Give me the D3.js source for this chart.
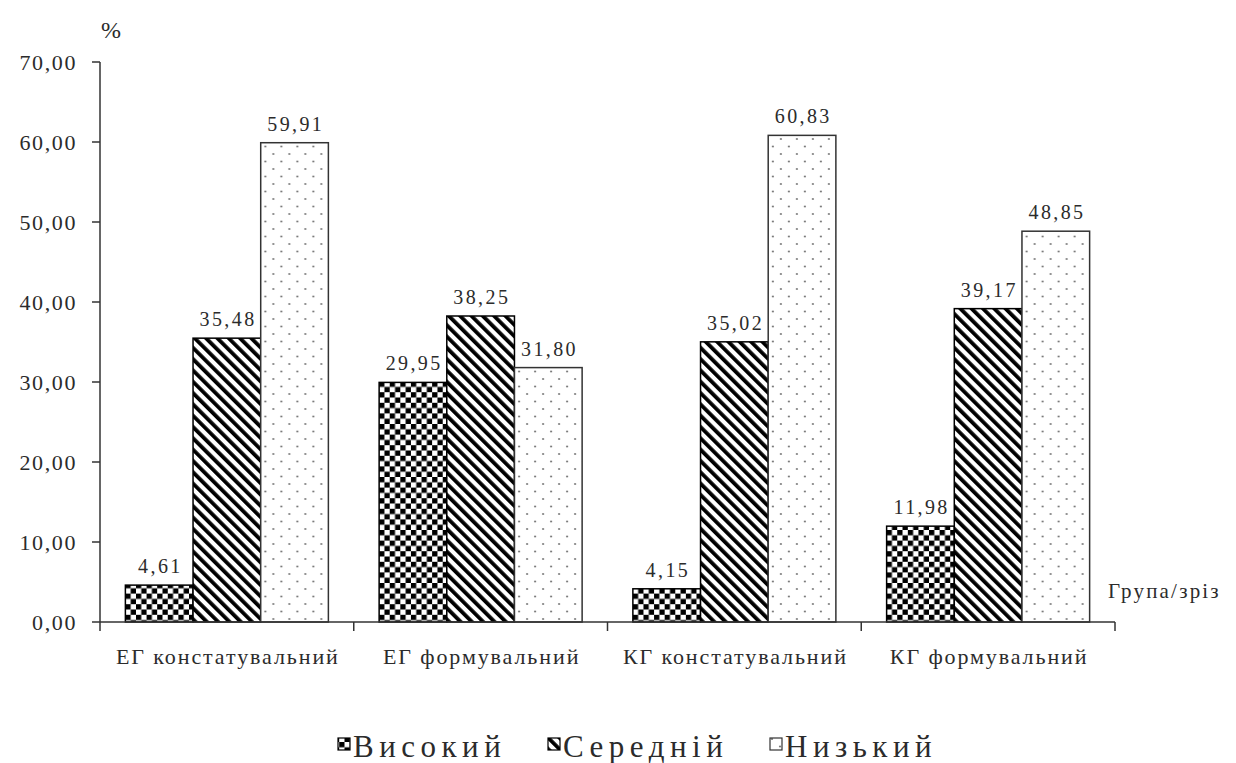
<!DOCTYPE html>
<html>
<head>
<meta charset="utf-8">
<script src="https://cdn.jsdelivr.net/npm/d3@7"></script>
</head>
<body style="margin:0">
<svg id="levels" width="1236" height="763"></svg>
<script>
// Categories (group / stage) and the three level series, in %
const categories = ["ЕГ констатувальний", "ЕГ формувальний", "КГ констатувальний", "КГ формувальний"];
const seriesNames = ["Високий", "Середній", "Низький"];
const high = [4.61, 29.95, 4.15, 11.98];
const medium = [35.48, 38.25, 35.02, 39.17];
const low = [59.91, 31.80, 60.83, 48.85];
const yTicks = [0, 10, 20, 30, 40, 50, 60, 70];

const FONT = '"Liberation Serif"';
const TEXT_COLOR = "#2b2b2b";

const svg = d3.select("#levels");
const defs = svg.append("defs");

// Fill patterns: checkerboard, diagonal hatching, sparse dots
const cell = 5.3;
const pCheck = defs.append("pattern").attr("id", "p-check")
  .attr("patternUnits", "userSpaceOnUse").attr("width", cell * 2).attr("height", cell * 2);
pCheck.append("rect").attr("width", cell * 2).attr("height", cell * 2).attr("fill", "#fff");
pCheck.append("rect").attr("width", cell).attr("height", cell).attr("fill", "#000");
pCheck.append("rect").attr("x", cell).attr("y", cell).attr("width", cell).attr("height", cell).attr("fill", "#000");

const pStripe = defs.append("pattern").attr("id", "p-stripe")
  .attr("patternUnits", "userSpaceOnUse").attr("width", 8).attr("height", 8)
  .attr("patternTransform", "rotate(-45)");
pStripe.append("rect").attr("width", 8).attr("height", 8).attr("fill", "#fff");
pStripe.append("rect").attr("width", 3.8).attr("height", 8).attr("fill", "#000");

const pDot = defs.append("pattern").attr("id", "p-dot")
  .attr("patternUnits", "userSpaceOnUse").attr("width", 16).attr("height", 15);
pDot.append("rect").attr("width", 16).attr("height", 15).attr("fill", "#fff");
pDot.append("circle").attr("cx", 4).attr("cy", 4).attr("r", 1.1).attr("fill", "#7a7a7a");
pDot.append("circle").attr("cx", 12).attr("cy", 11.5).attr("r", 1.1).attr("fill", "#7a7a7a");

const fills = ["url(#p-check)", "url(#p-stripe)", "url(#p-dot)"];
const strokes = ["#000", "#000", "#333"];

const plotLeft = 100, plotRight = 1115, plotTop = 62, plotBottom = 622;

const x0 = d3.scaleBand().domain(categories).range([plotLeft, plotRight]).paddingInner(0.2).paddingOuter(0.1);
const x1 = d3.scaleBand().domain(seriesNames).range([0, x0.bandwidth()]).padding(0);
const y = d3.scaleLinear().domain([0, 70]).range([plotBottom, plotTop]);

const fmt = v => d3.format(".2f")(v).replace(".", ",");

// Wide-set serif text
function label(parent, x, yy, str, size, anchor, spacing) {
  return parent.append("text")
    .attr("x", x)
    .attr("y", yy)
    .attr("font-size", size)
    .attr("text-anchor", anchor || "start")
    .style("font-family", FONT, "important")
    .style("letter-spacing", spacing + "px")
    .style("fill", TEXT_COLOR)
    .text(str);
}

// Bars
const series = [high, medium, low];
const rows = categories.map((c, i) => ({ c, vals: series.map((s, k) => ({ k, name: seriesNames[k], v: s[i] })) }));
const g = svg.append("g");
const groups = g.selectAll("g.grp").data(rows).join("g").attr("class", "grp")
  .attr("transform", d => `translate(${x0(d.c)},0)`);
groups.selectAll("rect").data(d => d.vals).join("rect")
  .attr("x", d => x1(d.name))
  .attr("y", d => y(d.v))
  .attr("width", x1.bandwidth())
  .attr("height", d => y(0) - y(d.v))
  .attr("fill", d => fills[d.k])
  .attr("stroke", d => strokes[d.k])
  .attr("stroke-width", 1.5);
groups.each(function (d) {
  const grp = d3.select(this);
  d.vals.forEach(v => {
    label(grp, x1(v.name) + x1.bandwidth() / 2 + 1.2, y(v.v) - 12, fmt(v.v), 20, "middle", 2.4);
  });
});

// Y axis
const axisColor = "#333";
svg.append("line").attr("x1", plotLeft).attr("x2", plotLeft).attr("y1", y(70)).attr("y2", y(0))
  .attr("stroke", axisColor).attr("stroke-width", 1.5);
yTicks.forEach(t => {
  svg.append("line").attr("x1", plotLeft - 8).attr("x2", plotLeft).attr("y1", y(t)).attr("y2", y(t))
    .attr("stroke", axisColor).attr("stroke-width", 1.5);
  label(svg, plotLeft - 23, y(t) + 8, fmt(t), 22, "end", 1.6);
});

// X axis with ticks at the group boundaries
svg.append("line").attr("x1", plotLeft).attr("x2", plotRight).attr("y1", y(0)).attr("y2", y(0))
  .attr("stroke", axisColor).attr("stroke-width", 1.5);
const gap = x0.step() - x0.bandwidth();
d3.range(categories.length + 1).forEach(i => {
  const xx = i === 0 ? plotLeft : (i === categories.length ? plotRight : x0(categories[i]) - gap / 2);
  svg.append("line").attr("x1", xx).attr("x2", xx).attr("y1", y(0)).attr("y2", y(0) + 9)
    .attr("stroke", axisColor).attr("stroke-width", 1.5);
});
categories.forEach(c => {
  label(svg, x0(c) + x0.bandwidth() / 2 + 1, 664, c, 22, "middle", 1.9);
});

// Axis titles
label(svg, 101, 38, "%", 24, "start", 0);
label(svg, 1108, 598, "Група/зріз", 21, "start", 2.2);

// Legend
const legend = svg.append("g");
const legendX = [338, 548, 770];
seriesNames.forEach((n, k) => {
  legend.append("rect").attr("x", legendX[k]).attr("y", 738).attr("width", 12).attr("height", 12)
    .attr("fill", fills[k]).attr("stroke", strokes[k]).attr("stroke-width", 1.2);
  label(legend, legendX[k] + 15, 757, n, 31, "start", 5.5);
});
</script>
</body>
</html>
